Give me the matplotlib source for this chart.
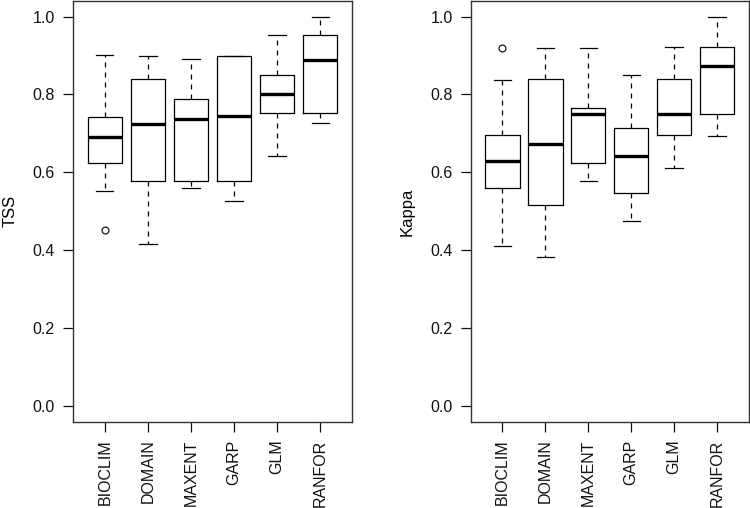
import matplotlib
matplotlib.use('Agg')
import matplotlib.pyplot as plt

plt.rcParams['font.family'] = ['Liberation Sans', 'DejaVu Sans']

MODELS = ['BIOCLIM', 'DOMAIN', 'MAXENT', 'GARP', 'GLM', 'RANFOR']

# TSS: lower whisker, Q1, median, Q3, upper whisker, outliers
TSS_LOW = [0.552, 0.416, 0.561, 0.526, 0.642, 0.728]
TSS_Q1 = [0.625, 0.577, 0.577, 0.577, 0.752, 0.752]
TSS_MED = [0.690, 0.725, 0.736, 0.745, 0.802, 0.889]
TSS_Q3 = [0.741, 0.840, 0.789, 0.900, 0.850, 0.954]
TSS_HIGH = [0.901, 0.900, 0.891, 0.900, 0.954, 1.000]
TSS_OUT = [[0.452], [], [], [], [], []]

# Kappa
KAP_LOW = [0.410, 0.384, 0.579, 0.475, 0.610, 0.693]
KAP_Q1 = [0.561, 0.516, 0.623, 0.547, 0.697, 0.751]
KAP_MED = [0.628, 0.674, 0.751, 0.642, 0.751, 0.873]
KAP_Q3 = [0.697, 0.840, 0.766, 0.715, 0.840, 0.921]
KAP_HIGH = [0.837, 0.919, 0.919, 0.849, 0.921, 1.000]
KAP_OUT = [[0.919], [], [], [], [], []]


def make_stats(low, q1, med, q3, high, out):
    """ Build stats dicts for bxp """
    stats = []
    for i in range(len(low)):
        stats.append(dict(whislo=low[i], q1=q1[i], med=med[i], q3=q3[i],
                          whishi=high[i], fliers=out[i]))
    return stats


def draw_panel(ax, stats, ylabel):
    """ R style boxplot """
    ax.bxp(stats, positions=range(1, len(stats) + 1), widths=0.8,
           showfliers=True,
           boxprops=dict(color='black', linewidth=0.9),
           medianprops=dict(color='black', linewidth=2.4, solid_capstyle='butt'),
           whiskerprops=dict(color='black', linewidth=0.9, linestyle=(0, (4, 4))),
           capprops=dict(color='black', linewidth=0.9),
           capwidths=0.4,
           flierprops=dict(marker='o', markersize=5, markerfacecolor='none',
                           markeredgecolor='black', markeredgewidth=0.8))
    ax.set_xlim(0.5 - 0.24, 6.5 + 0.24)
    ax.set_ylim(-0.04, 1.04)
    ax.set_yticks([0.0, 0.2, 0.4, 0.6, 0.8, 1.0])
    ax.set_yticklabels(['0.0', '0.2', '0.4', '0.6', '0.8', '1.0'])
    ax.set_xticks(range(1, 7))
    ax.set_xticklabels(MODELS, rotation=90)
    ax.tick_params(axis='both', length=7, width=0.9, labelsize=11.5, pad=6,
                   colors='#111111')
    for sp in ax.spines.values():
        sp.set_linewidth(1.0)
        sp.set_color('#333333')
    ax.set_ylabel(ylabel, fontsize=12, labelpad=11)


def main():
    fig = plt.figure(figsize=(7.5, 5.08), dpi=100, facecolor='w')
    ax1 = fig.add_axes([0.0973, 0.170, 0.372, 0.828])
    ax2 = fig.add_axes([0.6276, 0.170, 0.3707, 0.828])
    draw_panel(ax1, make_stats(TSS_LOW, TSS_Q1, TSS_MED, TSS_Q3, TSS_HIGH, TSS_OUT), 'TSS')
    draw_panel(ax2, make_stats(KAP_LOW, KAP_Q1, KAP_MED, KAP_Q3, KAP_HIGH, KAP_OUT), 'Kappa')
    fig.savefig('out.png', dpi=100)


if __name__ == '__main__':
    main()
